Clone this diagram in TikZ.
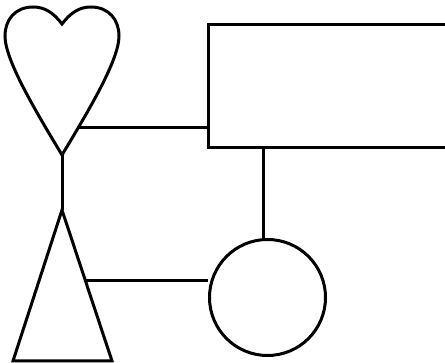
\documentclass[tikz,border=0pt]{standalone}
\begin{document}
\begin{tikzpicture}[x=1pt,y=-1pt,line width=3pt,
  shapeline/.style={draw=black,line width=3pt,line join=miter},
  conn/.style={draw=black,line width=3pt}]
\useasboundingbox (0,0) rectangle (445,363);
% heart
\draw[shapeline] (62,24) .. controls (53,12) and (44,7) .. (33,7)
  .. controls (15,7) and (5,20) .. (5,36)
  .. controls (5,60) and (35,110) .. (62,155)
  .. controls (89,110) and (119,60) .. (119,36)
  .. controls (119,20) and (109,7) .. (91,7)
  .. controls (80,7) and (71,12) .. (62,24) -- cycle;
\coordinate (heartTip) at (62,155);
\coordinate (heartRight) at (76.5,128);
% rectangle (cut by the right edge)
\draw[shapeline] (448,25) -- (208,25) -- (208,148) -- (448,148);
\coordinate (rectLeft) at (208,128);
\coordinate (rectBottom) at (263,148);
% circle
\node[shapeline,circle,minimum size=116pt,inner sep=0pt] (circ) at (267.5,297.5) {};
% triangle
\draw[shapeline] (62,210) -- (112,361) -- (13,361) -- cycle;
\coordinate (triTop) at (62,210);
\coordinate (triRight) at (86,281);
% connectors
\draw[conn] (heartTip) -- (triTop);
\draw[conn] (heartRight) -- (rectLeft);
\draw[conn] (rectBottom) -- ([yshift=-1pt]rectBottom |- circ.north);
\draw[conn] (triRight) -- (triRight -| circ.west);
\end{tikzpicture}
\end{document}
